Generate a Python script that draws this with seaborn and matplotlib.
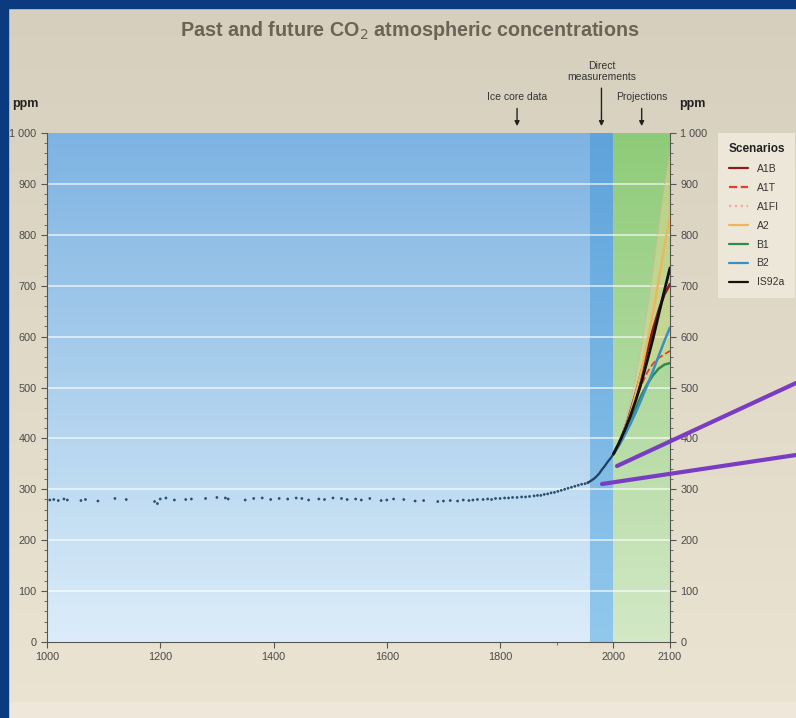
import numpy as np
import pandas as pd
import seaborn as sns
import matplotlib.pyplot as plt
from matplotlib.lines import Line2D
from matplotlib.colors import LinearSegmentedColormap

sns.set_style("white")
plt.rcParams['font.family'] = ['Liberation Sans', 'DejaVu Sans']

# ice core data (years, ppm)
ice_years = [1005, 1012, 1020, 1030, 1036, 1060, 1068, 1090, 1120, 1140, 1190, 1195, 1200,
             1210, 1225, 1245, 1255, 1280, 1300, 1315, 1320, 1350, 1365, 1380, 1395, 1410,
             1425, 1440, 1450, 1462, 1480, 1490, 1505, 1520, 1530, 1545, 1555, 1570, 1590,
             1600, 1612, 1630, 1650, 1665, 1690, 1700, 1712, 1725, 1735, 1745, 1752, 1760,
             1770, 1778, 1785, 1792, 1800, 1808, 1815, 1822, 1830, 1838, 1845, 1852, 1860,
             1866, 1872, 1878, 1884, 1890, 1896, 1902, 1908, 1914, 1920, 1926, 1932, 1938,
             1944, 1950, 1955]
ice_ppm = [279, 280, 278, 281, 279, 278, 280, 277, 282, 280, 276, 272, 281,
           283, 279, 280, 281, 282, 284, 283, 281, 279, 282, 283, 280, 282,
           281, 283, 282, 279, 281, 280, 283, 282, 280, 281, 279, 282, 278,
           279, 281, 280, 277, 278, 276, 277, 278, 277, 279, 278, 279, 280,
           280, 281, 280, 282, 282, 283, 283, 284, 284, 285, 285, 286, 287,
           288, 288, 290, 291, 293, 294, 296, 298, 300, 302, 304, 306, 308,
           310, 311, 313]

# direct measurements
meas_years = [1955, 1958, 1962, 1966, 1970, 1975, 1980, 1985, 1990, 1995, 2000]
meas_ppm = [313, 315, 318, 321, 325, 331, 339, 346, 354, 361, 369]

# scenario projections
proj_years = [2000, 2010, 2020, 2030, 2040, 2050, 2060, 2070, 2080, 2090, 2100]
A1B = [369, 390, 418, 452, 490, 532, 574, 614, 651, 683, 703]
A1T = [369, 390, 416, 446, 477, 506, 530, 547, 558, 565, 572]
A1FI = [369, 393, 425, 470, 524, 585, 655, 733, 818, 900, 968]
A2 = [369, 389, 416, 450, 490, 536, 589, 647, 710, 775, 840]
B1 = [369, 387, 410, 435, 461, 486, 507, 524, 537, 545, 548]
B2 = [369, 386, 406, 428, 452, 478, 505, 533, 562, 591, 618]
IS92a = [369, 391, 416, 444, 476, 512, 553, 596, 643, 690, 735]

scenarios = {"A1B": A1B, "A1T": A1T, "A1FI": A1FI, "A2": A2, "B1": B1, "B2": B2, "IS92a": IS92a}
colors = {"A1B": "#8e1c1c", "A1T": "#e0402e", "A1FI": "#f2a6a0", "A2": "#f0b45a",
          "B1": "#2f8a4e", "B2": "#3b8fc4", "IS92a": "#111111"}
styles = {"A1B": "-", "A1T": "--", "A1FI": ":", "A2": "-", "B1": "-", "B2": "-", "IS92a": "-"}
widths = {"A1B": 2.0, "A1T": 1.3, "A1FI": 1.0, "A2": 1.6, "B1": 1.8, "B2": 1.8, "IS92a": 2.0}

proj = pd.DataFrame({"year": np.repeat(proj_years, len(scenarios)),
                     "scenario": list(scenarios) * len(proj_years),
                     "ppm": [scenarios[s][i] for i in range(len(proj_years)) for s in scenarios]})

fig = plt.figure(figsize=(7.96, 7.18), dpi=100)

# page background
bg = fig.add_axes([0, 0, 1, 1], zorder=-10)
grad = np.linspace(0, 1, 256).reshape(-1, 1)
page_cmap = LinearSegmentedColormap.from_list("page", ["#d6cfbd", "#ece4d2"])
bg.imshow(grad, aspect="auto", cmap=page_cmap, extent=[0, 1, 0, 1], origin="upper")
bg.axhspan(0.0, 0.022, color="#efe8da")
bg.axvspan(0, 0.010, color="#0b3a7e")
bg.axhspan(0.989, 1.0, color="#0b3a7e")
bg.set_xlim(0, 1)
bg.set_ylim(0, 1)
bg.axis("off")

ax = fig.add_axes([0.059, 0.1058, 0.7827, 0.709])

blue_cmap = LinearSegmentedColormap.from_list("ice", ["#dcedf9", "#7db3e2"])
dm_cmap = LinearSegmentedColormap.from_list("dm", ["#92c8ec", "#5fa3db"])
gr_cmap = LinearSegmentedColormap.from_list("gr", ["#d3e8c6", "#8ecb78"])
g = np.linspace(0, 1, 256).reshape(-1, 1)
ax.imshow(g, aspect="auto", cmap=blue_cmap, extent=[1000, 1958, 0, 1000], origin="lower", zorder=0)
ax.imshow(g, aspect="auto", cmap=dm_cmap, extent=[1958, 2000, 0, 1000], origin="lower", zorder=0)
ax.imshow(g, aspect="auto", cmap=gr_cmap, extent=[2000, 2100, 0, 1000], origin="lower", zorder=0)

for yv in range(100, 1000, 100):
    ax.axhline(yv, color="white", lw=1.2, alpha=0.7, zorder=1)

# range of scenarios
lo = proj.groupby("year")["ppm"].min()
hi = proj.groupby("year")["ppm"].max()
ax.fill_between(lo.index, lo.values, hi.values, color="#e8d890", alpha=0.45, lw=0, zorder=2)

sns.scatterplot(x=ice_years, y=ice_ppm, ax=ax, s=4, color="#2b4f6e", edgecolor="none", zorder=3)
sns.lineplot(x=meas_years, y=meas_ppm, ax=ax, color="#1f3f5f", lw=1.6, zorder=3)

for s in scenarios:
    sns.lineplot(data=proj[proj.scenario == s], x="year", y="ppm", ax=ax, color=colors[s],
                 linestyle=styles[s], lw=widths[s], zorder=4, legend=False)

ax.set_xlim(1000, 2100)
ax.set_ylim(0, 1000)
ax.set_xticks([1000, 1200, 1400, 1600, 1800, 2000, 2100])
ax.set_xticks([1900], minor=True)
ax.set_yticks(range(0, 1001, 100))
ax.set_yticks(range(0, 1001, 20), minor=True)
ax.set_yticklabels(["0", "100", "200", "300", "400", "500", "600", "700", "800", "900", "1 000"])
ax.tick_params(axis="both", which="major", labelsize=7.8, colors="#555555", length=4, width=0.8,
               labelcolor="#4a4a4a", direction="out")
ax.tick_params(axis="both", which="minor", length=2, width=0.6, colors="#555555")
ax.tick_params(axis="y", which="both", left=True, right=True, labelright=True)
ax.tick_params(axis="x", which="both", bottom=True)
ax.set_xlabel("")
ax.set_ylabel("")
ax.spines["top"].set_visible(False)
for side in ["left", "right", "bottom"]:
    ax.spines[side].set_color("#555555")

# legend
handles = [Line2D([0], [0], color=colors[s], linestyle=styles[s], lw=1.6) for s in scenarios]
leg = fig.legend(handles, list(scenarios), loc="upper left", bbox_to_anchor=(0.902, 0.815),
                 borderaxespad=0, title="Scenarios", fontsize=7.5, title_fontsize=8.5,
                 frameon=True, facecolor="#ece7d8", edgecolor="none", handlelength=1.8,
                 labelspacing=0.85, borderpad=1.0, fancybox=False, framealpha=1)
leg.get_title().set_fontweight("bold")
leg.get_title().set_color("#222222")
for t in leg.get_texts():
    t.set_color("#333333")

# titles and annotations
fig.text(0.515, 0.958, "Past and future CO$_2$ atmospheric concentrations", ha="center", va="center",
         fontsize=14.2, fontweight="bold", color="#6b6456")
fig.text(0.015, 0.855, "ppm", fontsize=9, fontweight="bold", color="#222222", va="center")
fig.text(0.853, 0.855, "ppm", fontsize=9, fontweight="bold", color="#222222", va="center")

ax.annotate("Ice core data", xy=(1830, 1008), xytext=(1830, 1060), ha="center", va="bottom",
            fontsize=7.5, color="#333333", annotation_clip=False,
            arrowprops=dict(arrowstyle="-|>", color="#222222", lw=1, mutation_scale=7))
ax.annotate("Direct\nmeasurements", xy=(1979, 1008), xytext=(1979, 1100), ha="center", va="bottom",
            fontsize=7.5, color="#333333", annotation_clip=False, linespacing=1.1,
            arrowprops=dict(arrowstyle="-|>", color="#222222", lw=1, mutation_scale=7))
ax.annotate("Projections", xy=(2050, 1008), xytext=(2050, 1060), ha="center", va="bottom",
            fontsize=7.5, color="#333333", annotation_clip=False,
            arrowprops=dict(arrowstyle="-|>", color="#222222", lw=1, mutation_scale=7))

# purple pointer lines
fig.add_artist(Line2D([617 / 796, 1.0], [1 - 466 / 718, 1 - 383 / 718], color="#7a3cc2", lw=3))
fig.add_artist(Line2D([602 / 796, 1.0], [1 - 484 / 718, 1 - 455 / 718], color="#7a3cc2", lw=3))

fig.savefig("out.png", dpi=100)
